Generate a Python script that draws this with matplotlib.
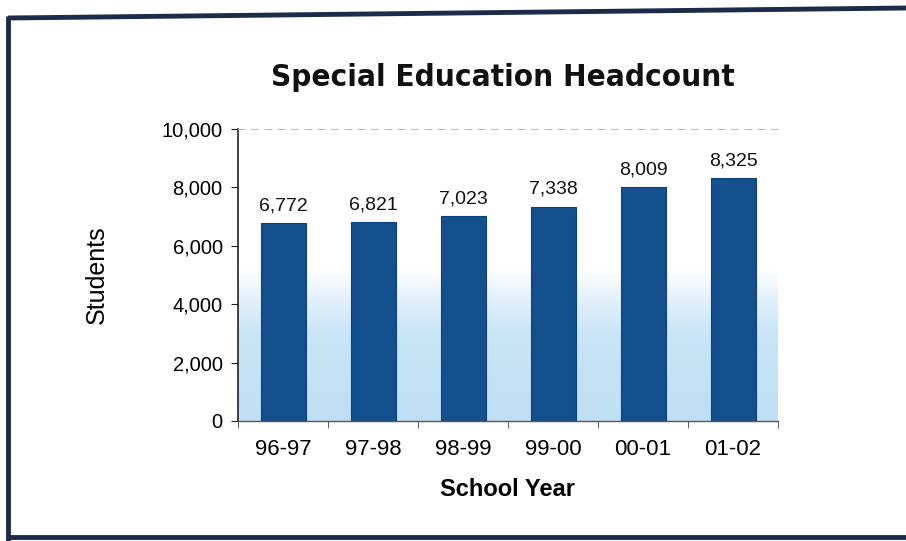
import numpy as np
import matplotlib
matplotlib.use('Agg')
import matplotlib.pyplot as plt
from matplotlib.lines import Line2D
from matplotlib.colors import LinearSegmentedColormap

# 特殊教育人数（按学年）
years = ['96-97', '97-98', '98-99', '99-00', '00-01', '01-02']
headcount = [6772, 6821, 7023, 7338, 8009, 8325]
y_ticks = [0, 2000, 4000, 6000, 8000, 10000]

W, H = 906, 541
fig = plt.figure(figsize=(W / 100, H / 100), dpi=100)
fig.patch.set_facecolor('white')

ax = fig.add_axes([238 / W, 1 - 421 / H, 540 / W, 292 / H])
ax.set_xlim(-0.5, len(years) - 0.5)
ax.set_ylim(0, 10000)

# 绘图区背景：底部浅蓝，约一半高度以上渐变为白色
grad = np.linspace(0, 1, 256).reshape(-1, 1)
cmap = LinearSegmentedColormap.from_list(
    'bg', [(0.0, '#bfdff4'), (0.3, '#c9e5f7'), (0.42, '#e3f1fb'), (0.52, '#ffffff'), (1.0, '#ffffff')])
ax.imshow(grad, aspect='auto', cmap=cmap, extent=(-0.5, len(years) - 0.5, 0, 10000),
          zorder=0, origin='lower')

x = np.arange(len(years))
bars = ax.bar(x, headcount, width=0.5, color='#144f8e', edgecolor='#0d3f78',
              linewidth=0.8, zorder=2)
for xi, v in zip(x, headcount):
    ax.text(xi, v + 300, f'{v:,}', ha='center', va='bottom', fontsize=14,
            family='Liberation Sans', color='#111111', zorder=3)

for s in ['right']:
    ax.spines[s].set_visible(False)
ax.spines['top'].set_color('#bbbbbb')
ax.spines['top'].set_linestyle((0, (6, 6)))
ax.spines['top'].set_linewidth(0.8)
ax.spines['left'].set_color('#222222')
ax.spines['left'].set_linewidth(1.2)
ax.spines['bottom'].set_color('#555555')
ax.spines['bottom'].set_linewidth(1.0)

ax.set_yticks(y_ticks)
ax.set_yticklabels([f'{t:,}' for t in y_ticks], fontsize=14.5, family='Liberation Sans')
ax.set_xticks(x)
ax.set_xticklabels(years, fontsize=16, family='Liberation Sans')
ax.set_xticks(np.arange(-0.5, len(years)), minor=True)
ax.tick_params(axis='x', which='major', length=0, pad=13)
ax.tick_params(axis='x', which='minor', length=5, direction='out', color='#444444')
ax.tick_params(axis='y', length=5, direction='out', color='#222222', pad=6)

ax.set_ylabel('Students', fontsize=18, family='Liberation Sans', labelpad=38)
ax.set_xlabel('School Year', fontsize=17, fontweight='bold', family='Liberation Sans',
              labelpad=13)

fig.text(503 / W, 1 - 78 / H, 'Special Education Headcount', ha='center', va='center',
         fontsize=22.5, fontweight='heavy', fontstretch='condensed', family='DejaVu Sans',
         color='#111111')

# 外框（上边略微倾斜）
def px(xp, yp):
    return xp / W, 1 - yp / H

frame_color = '#1b2b48'
for (x0, y0), (x1, y1) in [((8, 18), (906, 8)), ((8, 16), (8, 541)), ((8, 537), (906, 537))]:
    a, b = px(x0, y0)
    c, d = px(x1, y1)
    fig.add_artist(Line2D([a, c], [b, d], transform=fig.transFigure, color=frame_color,
                          linewidth=3.5, solid_capstyle='butt'))

fig.savefig('out.png', dpi=100)
